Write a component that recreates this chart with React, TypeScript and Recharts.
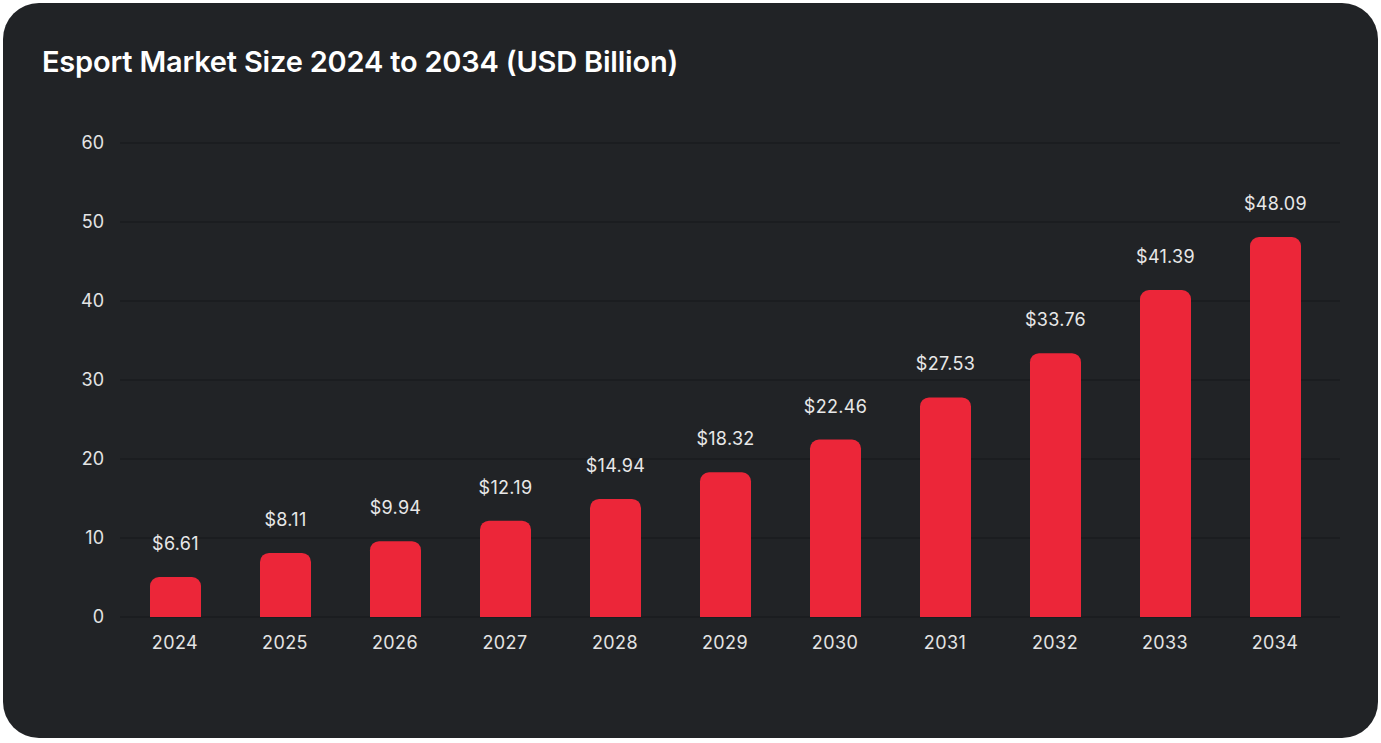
import { BarChart, Bar, XAxis, YAxis, CartesianGrid, LabelList } from 'recharts';

const years = ['2024', '2025', '2026', '2027', '2028', '2029', '2030', '2031', '2032', '2033', '2034'];
// bar heights as drawn in the picture
const marketSize = [5.05, 8.11, 9.6, 12.19, 14.94, 18.32, 22.46, 27.8, 33.4, 41.39, 48.09];
// value labels printed above the bars
const valueLabels = ['$6.61', '$8.11', '$9.94', '$12.19', '$14.94', '$18.32', '$22.46', '$27.53', '$33.76', '$41.39', '$48.09'];
const yTicks = [0, 10, 20, 30, 40, 50, 60];

const data = years.map((year, i) => ({ year, value: marketSize[i], label: valueLabels[i] }));

const font = 'Inter, "Noto Sans", sans-serif';

export default function App() {
  return (
    <div style={{ position: 'absolute', left: 0, top: 0, width: 1381, height: 743, background: '#fff', fontFamily: font }}>
      <div
        style={{
          position: 'absolute',
          left: 3,
          top: 3,
          width: 1375,
          height: 735,
          borderRadius: 36,
          background: '#212326',
        }}
      />
      <div
        style={{
          position: 'absolute',
          left: 42,
          top: 44,
          fontSize: 29,
          fontWeight: 600,
          color: '#fff',
          lineHeight: '36px',
          letterSpacing: -0.2,
          whiteSpace: 'nowrap',
        }}
      >
        Esport Market Size 2024 to 2034 (USD Billion)
      </div>
      <div style={{ position: 'absolute', left: 0, top: 0 }}>
        <BarChart width={1381} height={743} data={data} margin={{ top: 143, right: 41, left: 60, bottom: 96 }}>
          <CartesianGrid vertical={false} stroke="#17191b" strokeWidth={1} />
          <XAxis
            dataKey="year"
            axisLine={false}
            tickLine={false}
            tickMargin={13}
            height={30}
            padding={{ left: 0, right: 10 }}
            tick={{ fontSize: 18, fill: '#e4e4e4', fontFamily: font, letterSpacing: 0.4 }}
          />
          <YAxis
            width={60}
            domain={[0, 60]}
            ticks={yTicks}
            axisLine={false}
            tickLine={false}
            tickMargin={10}
            tick={{ fontSize: 18, fill: '#e4e4e4', fontFamily: font }}
          />
          <Bar dataKey="value" fill="#ec2639" barSize={51} radius={[9, 9, 0, 0]} isAnimationActive={false}>
            <LabelList
              dataKey="label"
              position="top"
              offset={27}
              style={{ fontSize: 18, fill: '#e8e8e8', fontFamily: font, letterSpacing: 0.3 }}
            />
          </Bar>
        </BarChart>
      </div>
    </div>
  );
}
